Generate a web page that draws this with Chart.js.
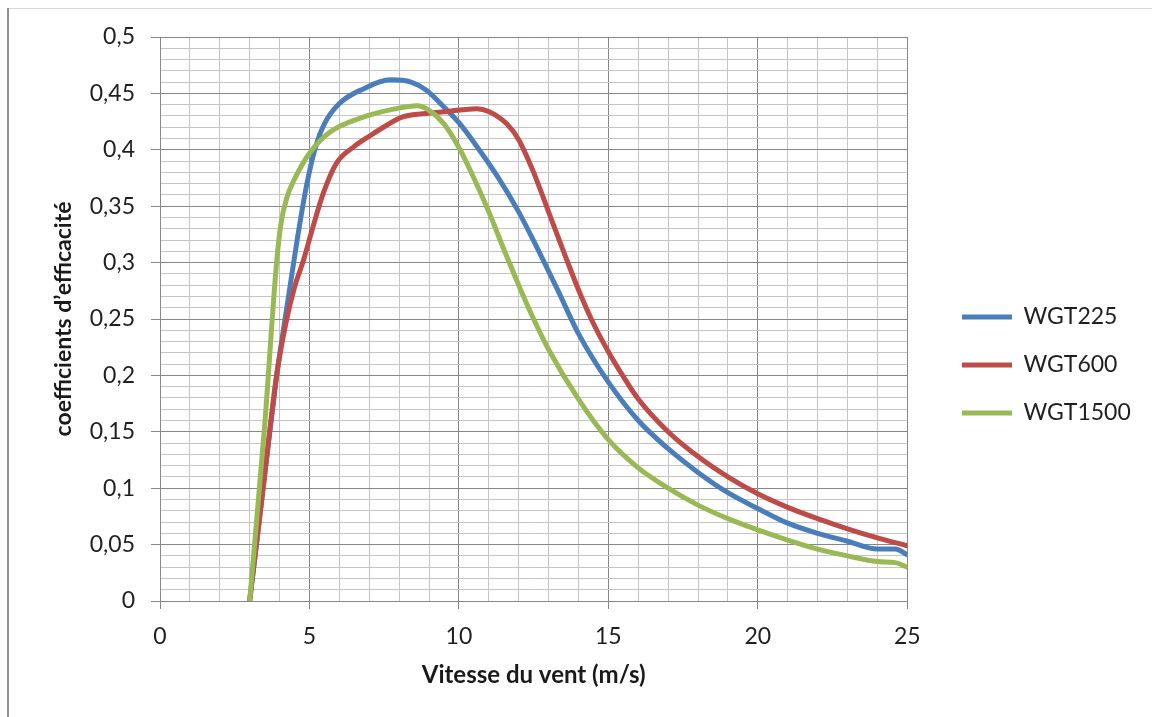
<!DOCTYPE html>
<html lang="fr">
<head>
<meta charset="utf-8">
<title>Coefficients d'efficacité</title>
<script src="https://cdn.jsdelivr.net/npm/chart.js@4.4.1/dist/chart.umd.min.js"></script>
<style>
  html, body { margin: 0; padding: 0; background: #fff; }
  #wrap { width: 1152px; height: 717px; }
</style>
</head>
<body>
<div id="wrap"><canvas id="chart" width="1152" height="717"></canvas></div>
<script>
// wind speed (m/s) and efficiency coefficient for each turbine
const vitesse225 = [3, 3.45, 3.9, 4.0, 4.3, 4.6, 4.9, 5.2, 5.5, 6.0, 6.8, 7.7, 8.4, 8.9, 9.5, 10, 10.6, 11.3, 12, 12.6, 13.3, 14, 15, 16, 17, 18, 19, 20, 21, 22, 23, 24, 24.6, 25];
const coef225 = [0, 0.1, 0.199, 0.218, 0.27, 0.322, 0.368, 0.402, 0.423, 0.441, 0.454, 0.462, 0.460, 0.453, 0.438, 0.424, 0.403, 0.376, 0.345, 0.314, 0.276, 0.237, 0.194, 0.160, 0.135, 0.114, 0.096, 0.082, 0.069, 0.060, 0.053, 0.046, 0.046, 0.041];

const vitesse600 = [3, 3.45, 3.9, 4.2, 4.5, 4.8, 5.1, 5.47, 5.9, 6.5, 7.0, 7.6, 8.1, 8.8, 9.6, 10.6, 11.0, 11.6, 12.0, 12.5, 13.0, 13.5, 14, 14.5, 15, 15.5, 16, 17, 18, 19, 20, 21, 22, 23, 24, 25];
const coef600 = [0, 0.1, 0.2, 0.245, 0.278, 0.302, 0.33, 0.362, 0.388, 0.403, 0.412, 0.422, 0.429, 0.432, 0.434, 0.4365, 0.434, 0.423, 0.409, 0.380, 0.345, 0.310, 0.276, 0.246, 0.221, 0.199, 0.179, 0.150, 0.128, 0.110, 0.095, 0.083, 0.073, 0.064, 0.056, 0.049];

const vitesse1500 = [3, 3.5, 3.9, 4.05, 4.25, 4.5, 5.0, 5.7, 6.8, 7.9, 8.6, 9.0, 9.5, 10, 10.5, 11, 11.5, 12, 12.5, 13, 14, 15, 16, 17, 18, 19, 20, 21, 22, 23, 24, 24.6, 25];
const coef1500 = [0, 0.155, 0.30, 0.335, 0.358, 0.374, 0.397, 0.416, 0.429, 0.4365, 0.439, 0.435, 0.423, 0.402, 0.375, 0.345, 0.312, 0.280, 0.250, 0.223, 0.179, 0.143, 0.118, 0.100, 0.085, 0.073, 0.063, 0.054, 0.046, 0.040, 0.035, 0.034, 0.030];

const seriesNames = ['WGT225', 'WGT600', 'WGT1500'];
const seriesColors = ['#4a7ebb', '#be4b48', '#98b954'];

const xTitle = 'Vitesse du vent (m/s)';
const yTitle = 'coefficients d\u2019efficacit\u00e9';

const toPoints = (xs, ys) => xs.map((x, i) => ({ x: x, y: ys[i] }));

const FONT = 'Lato';
const minorGrid = '#c4c4c4';
const majorGrid = '#878787';

const isMajorY = v => Math.round(v * 100) % 5 === 0;
const isMajorX = v => Math.round(v) % 5 === 0;

// page frame: thin grey line on top, darker one on the left
const framePlugin = {
  id: 'frame',
  beforeDraw(chart) {
    const ctx = chart.ctx;
    ctx.save();
    ctx.fillStyle = '#fff';
    ctx.fillRect(0, 0, chart.width, chart.height);
    ctx.strokeStyle = '#d6d6d6';
    ctx.lineWidth = 1;
    ctx.beginPath();
    ctx.moveTo(7, 8.5);
    ctx.lineTo(chart.width, 8.5);
    ctx.stroke();
    ctx.strokeStyle = '#8f8f8f';
    ctx.lineWidth = 2;
    ctx.beginPath();
    ctx.moveTo(8, 8);
    ctx.lineTo(8, chart.height);
    ctx.stroke();
    ctx.restore();
  }
};

// push the legend column away from the plot
const legendShift = {
  id: 'legendShift',
  afterLayout(chart) {
    const lg = chart.legend;
    const dx = 962 - (lg.left + lg.options.labels.padding);
    lg.left += dx;
    lg.right += dx;
  }
};

const datasets = [
  { label: seriesNames[0], data: toPoints(vitesse225, coef225), order: 3 },
  { label: seriesNames[1], data: toPoints(vitesse600, coef600), order: 2 },
  { label: seriesNames[2], data: toPoints(vitesse1500, coef1500), order: 1 }
].map((d, i) => Object.assign(d, {
  borderColor: seriesColors[i],
  backgroundColor: seriesColors[i],
  borderWidth: 5,
  pointRadius: 0,
  pointStyle: 'line',
  fill: false,
  cubicInterpolationMode: 'monotone',
  borderCapStyle: 'round',
  borderJoinStyle: 'round'
}));

new Chart(document.getElementById('chart'), {
  type: 'line',
  data: { datasets },
  plugins: [framePlugin, legendShift],
  options: {
    responsive: false,
    animation: false,
    layout: { padding: { top: 37, bottom: 24, left: 50, right: 41 } },
    plugins: {
      tooltip: { enabled: false },
      legend: {
        position: 'right',
        labels: {
          usePointStyle: true,
          pointStyleWidth: 50,
          padding: 25,
          color: '#1f1f1f',
          font: { family: FONT, size: 23 },
          sort: (a, b) => a.datasetIndex - b.datasetIndex
        }
      }
    },
    scales: {
      x: {
        type: 'linear',
        min: 0,
        max: 25,
        afterFit: s => { s.height = 92; },
        ticks: {
          stepSize: 1,
          maxTicksLimit: 100,
          autoSkip: false,
          maxRotation: 0,
          padding: 14,
          color: '#1f1f1f',
          font: { family: FONT, size: 23 },
          callback: v => isMajorX(v) ? String(v) : ''
        },
        grid: {
          color: c => isMajorX(c.tick.value) ? majorGrid : minorGrid,
          tickColor: c => isMajorX(c.tick.value) ? majorGrid : 'rgba(0,0,0,0)',
          tickLength: 8
        },
        border: { color: majorGrid },
        title: {
          display: true,
          text: xTitle,
          color: '#1a1a1a',
          font: { family: FONT, size: 24, weight: 'bold' },
          padding: { top: 10, bottom: 3 }
        }
      },
      y: {
        min: 0,
        max: 0.5,
        afterFit: s => { s.width = 110; },
        ticks: {
          stepSize: 0.01,
          maxTicksLimit: 100,
          autoSkip: false,
          padding: 16,
          color: '#1f1f1f',
          font: { family: FONT, size: 23 },
          callback: v => isMajorY(v) ? String(Math.round(v * 100) / 100).replace('.', ',') : ''
        },
        grid: {
          color: c => isMajorY(c.tick.value) ? majorGrid : minorGrid,
          tickColor: c => isMajorY(c.tick.value) ? majorGrid : 'rgba(0,0,0,0)',
          tickLength: 9
        },
        border: { color: majorGrid },
        title: {
          display: true,
          text: yTitle,
          color: '#1a1a1a',
          font: { family: FONT, size: 23, weight: 'bold' },
          padding: { top: 0, bottom: 12 }
        }
      }
    }
  }
});
</script>
</body>
</html>
